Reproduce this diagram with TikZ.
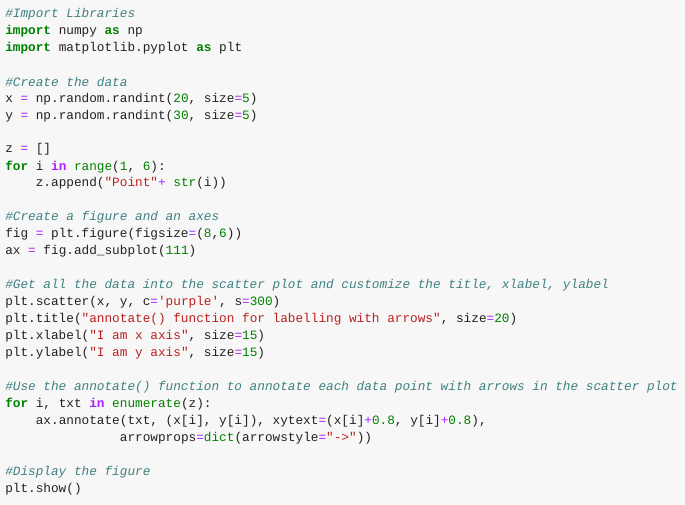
\documentclass[tikz,border=0pt]{standalone}
\usepackage{fontspec}
\setmonofont{Liberation Mono}
\definecolor{bg}{HTML}{F7F7F7}
\definecolor{ccom}{HTML}{408080}
\definecolor{ckw}{HTML}{008000}
\definecolor{cstr}{HTML}{BA2121}
\definecolor{cop}{HTML}{AA22FF}
\definecolor{ctxt}{HTML}{222222}
\newcommand\cC[1]{\textcolor{ccom}{\itshape #1}}
\newcommand\cK[1]{\textcolor{ckw}{\bfseries #1}}
\newcommand\cS[1]{\textcolor{cstr}{#1}}
\newcommand\cN[1]{\textcolor{ckw}{#1}}
\newcommand\cO[1]{\textcolor{cop}{#1}}
\newcommand\cB[1]{\textcolor{ckw}{#1}}
\begin{document}
\begin{tikzpicture}[x=0.75pt,y=-0.75pt,
  codeline/.style={anchor=west,inner sep=0pt,font=\ttfamily\fontsize{9.55pt}{12pt}\selectfont,text=ctxt}]
\fill[bg] (0,0) rectangle (685,505);
\useasboundingbox (0,0) rectangle (685,505);
\def\L#1{14+16.96*#1}
\node[codeline] (l0) at (5,{\L{0}}) {\cC{\#Import Libraries}};
\node[codeline] (l1) at (5,{\L{1}}) {\cK{import} numpy \cK{as} np};
\node[codeline] (l2) at (5,{\L{2}}) {\cK{import} matplotlib.pyplot \cK{as} plt};
\node[codeline] (l4) at (5,{\L{4}}) {\cC{\#Create the data}};
\node[codeline] (l5) at (5,{\L{5}}) {x \cO{=} np.random.randint(\cN{20}, size\cO{=}\cN{5})};
\node[codeline] (l6) at (5,{\L{6}}) {y \cO{=} np.random.randint(\cN{30}, size\cO{=}\cN{5})};
\node[codeline] (l8) at (5,{\L{8}}) {z \cO{=} []};
\node[codeline] (l9) at (5,{\L{9}}) {\cK{for} i \cO{\bfseries in} \cB{range}(\cN{1}, \cN{6}):};
\node[codeline] (l10) at (5,{\L{10}}) {~~~~z.append(\cS{"Point"}\cO{+} \cB{str}(i))};
\node[codeline] (l12) at (5,{\L{12}}) {\cC{\#Create a figure and an axes}};
\node[codeline] (l13) at (5,{\L{13}}) {fig \cO{=} plt.figure(figsize\cO{=}(\cN{8},\cN{6}))};
\node[codeline] (l14) at (5,{\L{14}}) {ax \cO{=} fig.add\_subplot(\cN{111})};
\node[codeline] (l16) at (5,{\L{16}}) {\cC{\#Get all the data into the scatter plot and customize the title, xlabel, ylabel}};
\node[codeline] (l17) at (5,{\L{17}}) {plt.scatter(x, y, c\cO{=}\cS{'purple'}, s\cO{=}\cN{300})};
\node[codeline] (l18) at (5,{\L{18}}) {plt.title(\cS{"annotate() function for labelling with arrows"}, size\cO{=}\cN{20})};
\node[codeline] (l19) at (5,{\L{19}}) {plt.xlabel(\cS{"I am x axis"}, size\cO{=}\cN{15})};
\node[codeline] (l20) at (5,{\L{20}}) {plt.ylabel(\cS{"I am y axis"}, size\cO{=}\cN{15})};
\node[codeline] (l22) at (5,{\L{22}}) {\cC{\#Use the annotate() function to annotate each data point with arrows in the scatter plot}};
\node[codeline] (l23) at (5,{\L{23}}) {\cK{for} i, txt \cO{\bfseries in} \cB{enumerate}(z):};
\node[codeline] (l24) at (5,{\L{24}}) {~~~~ax.annotate(txt, (x[i], y[i]), xytext\cO{=}(x[i]\cO{+}\cN{0.8}, y[i]\cO{+}\cN{0.8}),};
\node[codeline] (l25) at (5,{\L{25}}) {~~~~~~~~~~~~~~~arrowprops\cO{=}\cB{dict}(arrowstyle\cO{=}\cS{"->"}))};
\node[codeline] (l27) at (5,{\L{27}}) {\cC{\#Display the figure}};
\node[codeline] (l28) at (5,{\L{28}}) {plt.show()};
\end{tikzpicture}
\end{document}
